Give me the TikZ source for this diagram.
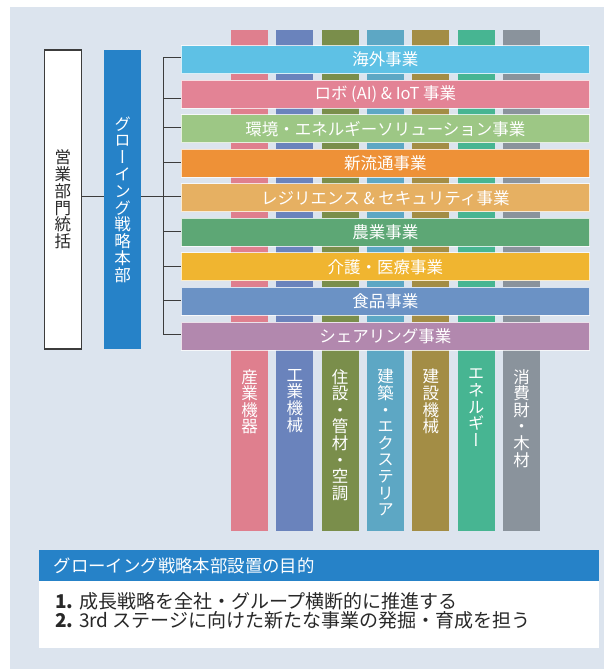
\documentclass[tikz,border=0pt]{standalone}
\usepackage{fontspec}
\setmainfont{Noto Sans CJK JP}
\newfontfamily\vfont[RawFeature=+vert]{Noto Sans CJK JP}
\usetikzlibrary{calc}
\definecolor{panel}{RGB}{220,228,238}
\definecolor{hqblue}{RGB}{38,130,200}
\definecolor{linegray}{RGB}{60,60,60}
\definecolor{bodytext}{RGB}{40,40,40}
% banners
\definecolor{bA}{RGB}{94,193,229}
\definecolor{bB}{RGB}{227,131,149}
\definecolor{bC}{RGB}{157,199,133}
\definecolor{bD}{RGB}{238,145,55}
\definecolor{bE}{RGB}{230,176,98}
\definecolor{bF}{RGB}{93,167,117}
\definecolor{bG}{RGB}{240,181,48}
\definecolor{bH}{RGB}{107,146,197}
\definecolor{bI}{RGB}{178,136,174}
% columns
\definecolor{cA}{RGB}{223,127,142}
\definecolor{cB}{RGB}{106,131,188}
\definecolor{cC}{RGB}{122,142,75}
\definecolor{cD}{RGB}{93,167,196}
\definecolor{cE}{RGB}{163,141,69}
\definecolor{cF}{RGB}{71,181,146}
\definecolor{cG}{RGB}{138,147,156}
\tikzset{
  column/.style={fill=#1, draw=none, minimum width=37pt, minimum height=500.7pt, inner sep=0pt, anchor=north},
  collabel/.style={text=white, anchor=north, inner sep=0pt, align=center, font=\vfont\fontsize{16.5}{16.6}\selectfont},
  banner/.style={fill=#1, draw=white, draw opacity=0.75, line width=1pt, minimum width=408.7pt, minimum height=28pt, inner sep=0pt, text=white, font=\fontsize{16.5}{18}\selectfont},
  conn/.style={draw=linegray, line width=1.1pt},
  vtext/.style={align=center, inner sep=0pt, font=\vfont\fontsize{16.5}{16.8}\selectfont},
  bodyline/.style={anchor=base west, inner sep=0pt, text=bodytext, font=\fontsize{19}{21}\selectfont}
}
\begin{document}
\begin{tikzpicture}[x=1pt,y=-1pt]
\useasboundingbox (0,0) rectangle (604,669);
\fill[panel] (10,7) rectangle (604,669);

% vertical category columns (behind banners)
\node[column=cA] (c1) at (249.5,30) {};
\node[column=cB] (c2) at (294.8,30) {};
\node[column=cC] (c3) at (340.2,30) {};
\node[column=cD] (c4) at (385.5,30) {};
\node[column=cE] (c5) at (430.8,30) {};
\node[column=cF] (c6) at (476.2,30) {};
\node[column=cG] (c7) at (521.5,30) {};

\node[collabel] (l1) at ([yshift=-339pt]c1.north) {産\\業\\機\\器};
\node[collabel] (l2) at ([yshift=-339pt]c2.north) {工\\業\\機\\械};
\node[collabel] (l3) at ([yshift=-339pt]c3.north) {住\\設\\・\\管\\材\\・\\空\\調};
\node[collabel] (l4) at ([yshift=-339pt]c4.north) {建\\築\\・\\エ\\ク\\ス\\テ\\リ\\ア};
\node[collabel] (l5) at ([yshift=-339pt]c5.north) {建\\設\\機\\械};
\node[collabel] (l6) at ([yshift=-339pt]c6.north) {エ\\ネ\\ル\\ギ\\ー};
\node[collabel] (l7) at ([yshift=-339pt]c7.north) {消\\費\\財\\・\\木\\材};

% business banners
\node[banner=bA] (b1) at (385.35,59.7) {海外事業};
\node[banner=bB] (b2) at (385.35,94.24) {ロボ (AI) \& IoT 事業};
\node[banner=bC] (b3) at (385.35,128.78) {環境・エネルギーソリューション事業};
\node[banner=bD] (b4) at (385.35,163.32) {新流通事業};
\node[banner=bE] (b5) at (385.35,197.86) {レジリエンス \& セキュリティ事業};
\node[banner=bF] (b6) at (385.35,232.4) {農業事業};
\node[banner=bG] (b7) at (385.35,266.94) {介護・医療事業};
\node[banner=bH] (b8) at (385.35,301.48) {食品事業};
\node[banner=bI] (b9) at (385.35,336.02) {シェアリング事業};

% left boxes
\node[draw=linegray, line width=1.1pt, fill=white, minimum width=37pt, minimum height=299pt, inner sep=0pt] (sales) at (62.8,199.5) {};
\node[vtext, text=bodytext] (salest) at (sales.center) {営\\業\\部\\門\\統\\括};
\node[fill=hqblue, minimum width=37pt, minimum height=299pt, inner sep=0pt] (hq) at (122.5,199.5) {};
\node[vtext, text=white] (hqt) at (hq.center) {グ\\ロ\\ー\\イ\\ン\\グ\\戦\\略\\本\\部};

% bracket
\coordinate (t1) at (163.3,57.3);
\coordinate (t2) at (163.3,98.7);
\coordinate (t3) at (163.3,127.7);
\coordinate (t4) at (163.3,162.7);
\coordinate (t5) at (163.3,196.7);
\coordinate (t6) at (163.3,231.7);
\coordinate (t7) at (163.3,266.3);
\coordinate (t8) at (163.3,300.7);
\coordinate (t9) at (163.3,334.7);
\draw[conn] (t1) -- (t9);
\foreach \i in {1,...,9} {\draw[conn] (t\i) -- (t\i -| b\i.west);}
\draw[conn] ([yshift=2.8pt]sales.east) -- ([yshift=2.8pt]hq.west);
\draw[conn] ([yshift=2.8pt]hq.east) -- (t5);

% purpose box
\node[fill=hqblue, minimum width=560pt, minimum height=31pt, inner sep=0pt, anchor=north west] (head) at (39,550) {};
\node[fill=white, minimum width=560pt, minimum height=66.7pt, inner sep=0pt, anchor=north west] (body) at (39,581) {};
\node[anchor=west, inner sep=0pt, text=white, font=\fontsize{17.4}{20}\selectfont] (headt) at (53.5,565.5) {グローイング戦略本部設置の目的};
\node[bodyline] (p1) at (55,608.8) {\textbf{1.} 成長戦略を全社・グループ横断的に推進する};
\node[bodyline] (p2) at (55,627.4) {\textbf{2.} 3rd ステージに向けた新たな事業の発掘・育成を担う};
\end{tikzpicture}
\end{document}
